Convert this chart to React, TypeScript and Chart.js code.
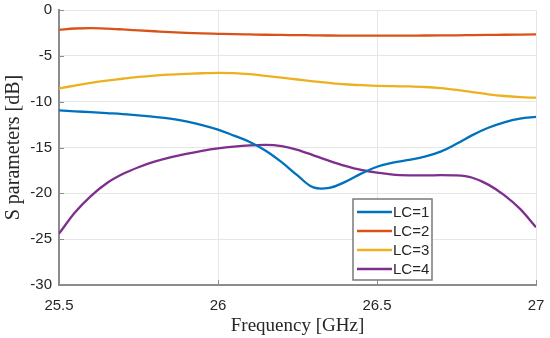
import React, { useEffect, useRef } from 'react';
import { Chart, registerables } from 'chart.js';

Chart.register(...registerables);

const freq = [25.5, 25.55, 25.6, 25.65, 25.7, 25.75, 25.8, 25.85, 25.9, 25.95, 26.0, 26.05, 26.1, 26.15, 26.2, 26.25, 26.3, 26.35, 26.4, 26.45, 26.5, 26.55, 26.6, 26.65, 26.7, 26.75, 26.8, 26.85, 26.9, 26.95, 27.0];

const lc1 = [-10.95, -11.05, -11.15, -11.25, -11.35, -11.5, -11.65, -11.85, -12.15, -12.55, -13.05, -13.7, -14.4, -15.35, -16.6, -18.05, -19.35, -19.4, -18.75, -17.85, -17.1, -16.65, -16.35, -16.0, -15.45, -14.6, -13.65, -12.85, -12.25, -11.85, -11.65];
const lc2 = [-2.15, -2.02, -1.98, -2.03, -2.12, -2.22, -2.32, -2.42, -2.5, -2.56, -2.6, -2.64, -2.67, -2.7, -2.72, -2.74, -2.76, -2.78, -2.79, -2.8, -2.8, -2.8, -2.79, -2.78, -2.77, -2.76, -2.74, -2.72, -2.7, -2.68, -2.66];
const lc3 = [-8.55, -8.25, -7.95, -7.7, -7.5, -7.3, -7.15, -7.05, -6.97, -6.9, -6.85, -6.88, -7.0, -7.18, -7.38, -7.58, -7.78, -7.95, -8.1, -8.2, -8.27, -8.31, -8.34, -8.4, -8.52, -8.72, -8.97, -9.2, -9.38, -9.5, -9.57];
const lc4 = [-24.4, -22.1, -20.3, -18.9, -17.9, -17.15, -16.55, -16.08, -15.7, -15.37, -15.1, -14.9, -14.77, -14.72, -14.85, -15.25, -15.85, -16.45, -17.0, -17.45, -17.75, -17.95, -18.03, -18.05, -18.02, -18.05, -18.3, -19.05, -20.2, -21.7, -23.7];

const seriesLabels = ['LC=1', 'LC=2', 'LC=3', 'LC=4'];
const seriesColors = ['#0072BD', '#D95319', '#EDB120', '#7E2F8E'];
const xTicks = [25.5, 26, 26.5, 27];
const yTicks = [0, -5, -10, -15, -20, -25, -30];

const xTitle = 'Frequency [GHz]';
const yTitle = 'S parameters [dB]';

const AXIS_COLOR = '#8c8c8c';
const GRID_COLOR = '#e6e6e6';
const TEXT_COLOR = '#262626';
const TICK_FONT = { family: '"Liberation Sans", Arial, sans-serif', size: 15 };
const XTITLE_FONT = { family: '"Liberation Serif", "Times New Roman", serif', size: 19 };
const YTITLE_FONT = { family: '"Liberation Serif", "Times New Roman", serif', size: 20 };

function zeroPadding(s: any) {
  s.paddingTop = 0;
  s.paddingBottom = 0;
  s.paddingLeft = 0;
  s.paddingRight = 0;
}

const decorPlugin = {
  id: 'matlabDecor',
  beforeDraw(chart: any) {
    const { ctx, width, height } = chart;
    ctx.save();
    ctx.fillStyle = '#ffffff';
    ctx.fillRect(0, 0, width, height);
    ctx.restore();
  },
  afterDraw(chart: any) {
    const { ctx, chartArea, scales } = chart;
    ctx.save();
    // inward tick marks
    ctx.strokeStyle = AXIS_COLOR;
    ctx.lineWidth = 1;
    ctx.beginPath();
    xTicks.forEach((v) => {
      const x = Math.round(scales.x.getPixelForValue(v)) + 0.5;
      ctx.moveTo(x, chartArea.bottom);
      ctx.lineTo(x, chartArea.bottom - 5);
    });
    yTicks.forEach((v) => {
      const y = Math.round(scales.y.getPixelForValue(v)) + 0.5;
      ctx.moveTo(chartArea.left, y);
      ctx.lineTo(chartArea.left + 5, y);
    });
    ctx.stroke();

    // legend box
    const boxW = 79;
    const boxH = 81;
    const boxX = chartArea.right - 183;
    const boxY = chartArea.bottom - 5 - boxH;
    ctx.fillStyle = '#ffffff';
    ctx.fillRect(boxX, boxY, boxW, boxH);
    ctx.strokeStyle = '#7a7a7a';
    ctx.lineWidth = 1.5;
    ctx.strokeRect(boxX, boxY, boxW, boxH);
    ctx.font = `${TICK_FONT.size}px ${TICK_FONT.family}`;
    ctx.textBaseline = 'middle';
    ctx.textAlign = 'left';
    chart.data.datasets.forEach((ds: any, i: number) => {
      const cy = boxY + 13 + i * 19;
      ctx.strokeStyle = ds.borderColor;
      ctx.lineWidth = 2.5;
      ctx.beginPath();
      ctx.moveTo(boxX + 4, cy);
      ctx.lineTo(boxX + 39, cy);
      ctx.stroke();
      ctx.fillStyle = TEXT_COLOR;
      ctx.fillText(ds.label, boxX + 40, cy + 1);
    });
    ctx.restore();
  },
};

export default function App() {
  const canvasRef = useRef<HTMLCanvasElement | null>(null);

  useEffect(() => {
    const canvas = canvasRef.current;
    if (!canvas) return;
    const seriesValues = [lc1, lc2, lc3, lc4];
    const chart = new Chart(canvas, {
      type: 'line',
      data: {
        datasets: seriesValues.map((vals, i) => ({
          label: seriesLabels[i],
          data: freq.map((f, j) => ({ x: f, y: vals[j] })),
          borderColor: seriesColors[i],
          backgroundColor: seriesColors[i],
          borderWidth: 2.3,
          pointRadius: 0,
          cubicInterpolationMode: i === 0 ? 'default' : 'monotone',
          tension: 0.4,
          fill: false,
        })),
      },
      options: {
        responsive: false,
        animation: false,
        devicePixelRatio: 1,
        layout: { padding: { top: 10, right: 14, left: 0, bottom: 0 } },
        plugins: {
          legend: { display: false },
          tooltip: { enabled: false },
        },
        scales: {
          x: {
            type: 'linear',
            min: 25.5,
            max: 27,
            afterBuildTicks: (s: any) => {
              s.ticks = xTicks.map((v) => ({ value: v }));
            },
            afterFit: (s: any) => {
              s.height = 53;
              zeroPadding(s);
            },
            ticks: {
              color: TEXT_COLOR,
              font: TICK_FONT,
              padding: 12,
              maxRotation: 0,
              callback: (v: any) => String(v),
            },
            grid: { color: GRID_COLOR, drawTicks: false, lineWidth: 1 },
            border: { color: AXIS_COLOR, width: 2 },
            title: {
              display: true,
              text: xTitle,
              color: TEXT_COLOR,
              font: XTITLE_FONT,
              padding: { top: 0, bottom: 1 },
            },
          },
          y: {
            type: 'linear',
            min: -30,
            max: 0,
            afterBuildTicks: (s: any) => {
              s.ticks = yTicks.slice().reverse().map((v) => ({ value: v }));
            },
            afterFit: (s: any) => {
              s.width = 59;
              zeroPadding(s);
            },
            ticks: {
              color: TEXT_COLOR,
              font: TICK_FONT,
              padding: 7,
              callback: (v: any) => String(v),
            },
            grid: { color: GRID_COLOR, drawTicks: false, lineWidth: 1 },
            border: { color: AXIS_COLOR, width: 2 },
            title: {
              display: true,
              text: yTitle,
              color: TEXT_COLOR,
              font: YTITLE_FONT,
              padding: { top: 2, bottom: 0 },
            },
          },
        },
      },
      plugins: [decorPlugin],
    } as any);
    return () => chart.destroy();
  }, []);

  return (
    <div style={{ position: 'absolute', left: 0, top: 0, width: 550, height: 338 }}>
      <canvas ref={canvasRef} width={550} height={338} style={{ width: 550, height: 338, display: 'block' }} />
    </div>
  );
}
